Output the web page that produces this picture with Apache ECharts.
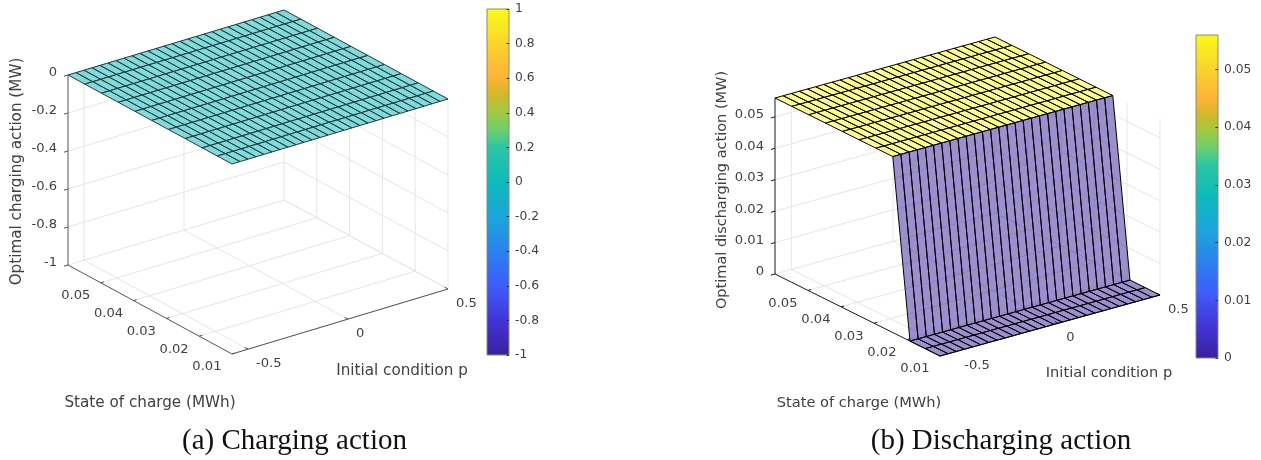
<!DOCTYPE html>
<html>
<head>
<meta charset="utf-8">
<style>html,body{margin:0;padding:0;background:#fff}#c{width:1261px;height:460px}</style>
<script src="https://cdn.jsdelivr.net/npm/echarts@6/dist/echarts.min.js"></script>
</head>
<body>
<div id="c"></div>
<script>
// ---- data ----
const pMesh = [-0.58,-0.54,-0.50,-0.46,-0.42,-0.38,-0.34,-0.30,-0.26,-0.22,-0.18,-0.14,-0.10,-0.06,-0.02,0.02,0.06,0.10,0.14,0.18,0.22,0.26,0.30,0.34,0.38,0.42,0.46,0.50];
const socMesh = [0.01,0.0145,0.0191,0.0243,0.0294,0.0345,0.0396,0.0447,0.0498,0.0549,0.06];
const chargingBySoc = [0,0,0,0,0,0,0,0,0,0,0];
const dischargingBySoc = [0,0,0,0.056,0.056,0.056,0.056,0.056,0.056,0.056,0.056];
const pTicks = [-0.5,0,0.5];
const socTicks = [0.05,0.04,0.03,0.02,0.01];
const chargeTicks = [0,-0.2,-0.4,-0.6,-0.8,-1];
const dischargeTicks = [0.05,0.04,0.03,0.02,0.01,0];
const colormapStops = [
  [0,'#3a1f9e'],[0.1,'#4334d8'],[0.2,'#3e5cfb'],[0.3,'#2b82ef'],[0.4,'#1ba6da'],
  [0.5,'#0cbabc'],[0.6,'#2cc6a2'],[0.65,'#6cd06d'],[0.7,'#a0c944'],[0.75,'#cfb929'],
  [0.8,'#fdb338'],[0.9,'#fad42c'],[1,'#f9fb15']
];

// ---- helpers ----
const TEXT = '#404040', SANS = '"DejaVu Sans"';
function hex(c){return [1,3,5].map(i=>parseInt(c.substr(i,2),16));}
function cmap(t){
  t = Math.max(0,Math.min(1,t));
  for(let i=1;i<colormapStops.length;i++){
    if(t<=colormapStops[i][0]){
      const a=colormapStops[i-1],b=colormapStops[i],f=(t-a[0])/(b[0]-a[0]);
      const A=hex(a[1]),B=hex(b[1]);
      return A.map((v,k)=>Math.round(v+(B[k]-v)*f));
    }
  }
  return hex(colormapStops[colormapStops.length-1][1]);
}

const grids=[],xAxes=[],yAxes=[],series=[];

function panel(cfg){
  const g=grids.length;
  const pMin=pMesh[0],pMax=pMesh[pMesh.length-1],sMin=socMesh[0],sMax=socMesh[socMesh.length-1];
  grids.push({left:cfg.box[0],top:cfg.box[1],width:cfg.box[2],height:cfg.box[3],show:false});
  xAxes.push({type:'value',gridIndex:g,min:0,max:cfg.box[2],show:false});
  yAxes.push({type:'value',gridIndex:g,min:0,max:cfg.box[3],show:false});
  const proj=(p,s,z)=>{
    const fp=(p-pMin)/(pMax-pMin),fs=(s-sMin)/(sMax-sMin),fz=(z-cfg.zMin)/(cfg.zMax-cfg.zMin);
    return [cfg.origin[0]+fp*cfg.pVec[0]+fs*cfg.socVec[0], cfg.origin[1]+fp*cfg.pVec[1]+fs*cfg.socVec[1]+fz*cfg.zLen];
  };
  // wall and floor grid
  const gl=[];
  pTicks.forEach(p=>{gl.push([[p,sMin,cfg.zMin],[p,sMax,cfg.zMin]]);gl.push([[p,sMax,cfg.zMin],[p,sMax,cfg.zMax]]);});
  socTicks.forEach(s=>{gl.push([[pMin,s,cfg.zMin],[pMax,s,cfg.zMin]]);gl.push([[pMax,s,cfg.zMin],[pMax,s,cfg.zMax]]);});
  cfg.zTicks.forEach(z=>{gl.push([[pMin,sMax,z],[pMax,sMax,z]]);gl.push([[pMax,sMax,z],[pMax,sMin,z]]);});
  const lineSeries=(name,list,color,width,z)=>series.push({
    type:'custom',name,coordinateSystem:'cartesian2d',xAxisIndex:g,yAxisIndex:g,silent:true,z,
    data:list.map((_,i)=>[i]),clip:false,animation:false,
    renderItem(params,api){
      const l=list[params.dataIndex];
      const a=api.coord(proj(...l[0])),b=api.coord(proj(...l[1]));
      return {type:'line',shape:{x1:a[0],y1:a[1],x2:b[0],y2:b[1]},style:{stroke:color,lineWidth:width}};
    }
  });
  lineSeries('grid',gl,'#e6e6e6',1,1);
  // surface
  const quads=[];
  for(let j=socMesh.length-2;j>=0;j--) for(let i=0;i<pMesh.length-1;i++) quads.push([i,j]);
  series.push({
    type:'custom',name:cfg.name,coordinateSystem:'cartesian2d',xAxisIndex:g,yAxisIndex:g,silent:true,z:3,
    data:quads,clip:false,animation:false,
    renderItem(params,api){
      const [i,j]=quads[params.dataIndex];
      const z0=cfg.zVals[j],z1=cfg.zVals[j+1];
      const pts=[proj(pMesh[i],socMesh[j],z0),proj(pMesh[i+1],socMesh[j],z0),proj(pMesh[i+1],socMesh[j+1],z1),proj(pMesh[i],socMesh[j+1],z1)].map(q=>api.coord(q));
      const c=cmap((z0-cfg.cMin)/(cfg.cMax-cfg.cMin));
      return {type:'polygon',shape:{points:pts},style:{fill:`rgba(${c[0]},${c[1]},${c[2]},${cfg.alpha})`,stroke:cfg.edge,lineWidth:cfg.edgeWidth,lineJoin:'round'}};
    }
  });
  // axes
  const axisLines=[[[pMin,sMax,cfg.zMin],[pMin,sMax,cfg.zMax]],[[pMin,sMin,cfg.zMin],[pMin,sMax,cfg.zMin]],[[pMin,sMin,cfg.zMin],[pMax,sMin,cfg.zMin]]];
  cfg.zTicks.forEach(z=>axisLines.push([[pMin,sMax,z],[pMin-0.02,sMax,z]]));
  socTicks.forEach(s=>axisLines.push([[pMin,s,cfg.zMin],[pMin+0.015,s,cfg.zMin]]));
  pTicks.forEach(p=>axisLines.push([[p,sMin,cfg.zMin],[p,sMin+0.001,cfg.zMin]]));
  lineSeries('axes',axisLines,cfg.axisColor,1,2);
  // tick labels
  const labs=[];
  cfg.zTicks.forEach(z=>labs.push([String(z),[pMin,sMax,z],-11,-2,'right']));
  socTicks.forEach(s=>labs.push([String(s),[pMin,s,cfg.zMin],-10.5,13,'right']));
  pTicks.forEach(p=>labs.push([String(p),[p,sMin,cfg.zMin],8,14.5,'left']));
  series.push({
    type:'custom',name:'tick labels',coordinateSystem:'cartesian2d',xAxisIndex:g,yAxisIndex:g,silent:true,z:4,
    data:labs.map((_,i)=>[i]),clip:false,animation:false,
    renderItem(params,api){
      const l=labs[params.dataIndex],a=api.coord(proj(...l[1]));
      return {type:'text',x:a[0]+l[2],y:a[1]+l[3],style:{text:l[0],fill:TEXT,fontFamily:SANS,fontSize:13.1,align:l[4],verticalAlign:'middle'}};
    }
  });
  // colorbar
  const cb=grids.length;
  grids.push({left:cfg.bar[0],top:cfg.bar[1],width:cfg.bar[2],height:cfg.bar[3],show:false});
  xAxes.push({type:'value',gridIndex:cb,min:0,max:1,show:false});
  yAxes.push({type:'value',gridIndex:cb,position:'right',z:10,min:cfg.cMin,max:cfg.cMax,interval:cfg.cStep,
    axisLine:{show:false,onZero:false},splitLine:{show:false},
    axisTick:{inside:true,length:2.5,lineStyle:{color:'#303030',width:1}},
    axisLabel:{showMaxLabel:cfg.cShowMax,color:TEXT,fontFamily:SANS,fontSize:12.3,margin:6}});
  series.push({
    type:'custom',name:cfg.name+' colorbar',coordinateSystem:'cartesian2d',xAxisIndex:cb,yAxisIndex:cb,silent:true,z:1,
    data:[[0,cfg.cMin,1,cfg.cMax]],animation:false,
    renderItem(params,api){
      const a=api.coord([api.value(0),api.value(3)]),b=api.coord([api.value(2),api.value(1)]);
      return {type:'rect',shape:{x:a[0],y:a[1],width:b[0]-a[0],height:b[1]-a[1]},
        style:{stroke:'#8a8a70',lineWidth:1,fill:new echarts.graphic.LinearGradient(0,1,0,0,colormapStops.map(s=>({offset:s[0],color:s[1]})))}};
    }
  });
}

panel({name:'Optimal charging action',box:[68,9,380,345],origin:[164,0],pVec:[216,65],socVec:[-164,89],zLen:190,
  zMin:-1,zMax:0,zTicks:chargeTicks,zVals:chargingBySoc,
  cMin:-1,cMax:1,cStep:0.2,cShowMax:true,bar:[487,9,22,346],alpha:0.52,edge:'#2a3a3a',edgeWidth:1,axisColor:'#555555'});
panel({name:'Optimal discharging action',box:[775,36,385,320],origin:[165,0],pVec:[220,61],socVec:[-165,82],zLen:176,
  zMin:0,zMax:0.056,zTicks:dischargeTicks,zVals:dischargingBySoc,
  cMin:0,cMax:0.056,cStep:0.01,cShowMax:false,bar:[1196,35,22,323],alpha:0.5,edge:'#000000',edgeWidth:1,axisColor:'#1a1a1a'});

const T=(text,x,y,size,extra)=>Object.assign({type:'text',x,y,silent:true,
  style:{text,fill:TEXT,fontFamily:SANS,fontSize:size,align:'center',verticalAlign:'middle'}},extra||{});
const graphicEls=[
  T('Optimal charging action (MW)',17,171.5,15.2,{rotation:Math.PI/2}),
  T('State of charge (MWh)',150,403,15.2),
  T('Initial condition p',402,371,15.2),
  T('Optimal discharging action (MW)',722,190,14.5,{rotation:Math.PI/2}),
  T('State of charge (MWh)',859,403,14.6),
  T('Initial condition p',1109,373,14.6)
];
[['(a) Charging action',294.5],['(b) Discharging action',1001]].forEach(c=>{
  const e=T(c[0],c[1],441,29); e.style.fill='#111111'; e.style.fontFamily='"Liberation Serif"'; graphicEls.push(e);
});

const chart=echarts.init(document.getElementById('c'),null,{renderer:'canvas'});
chart.setOption({animation:false,backgroundColor:'#ffffff',grid:grids,xAxis:xAxes,yAxis:yAxes,series,graphic:{elements:graphicEls}});
</script>
</body>
</html>
